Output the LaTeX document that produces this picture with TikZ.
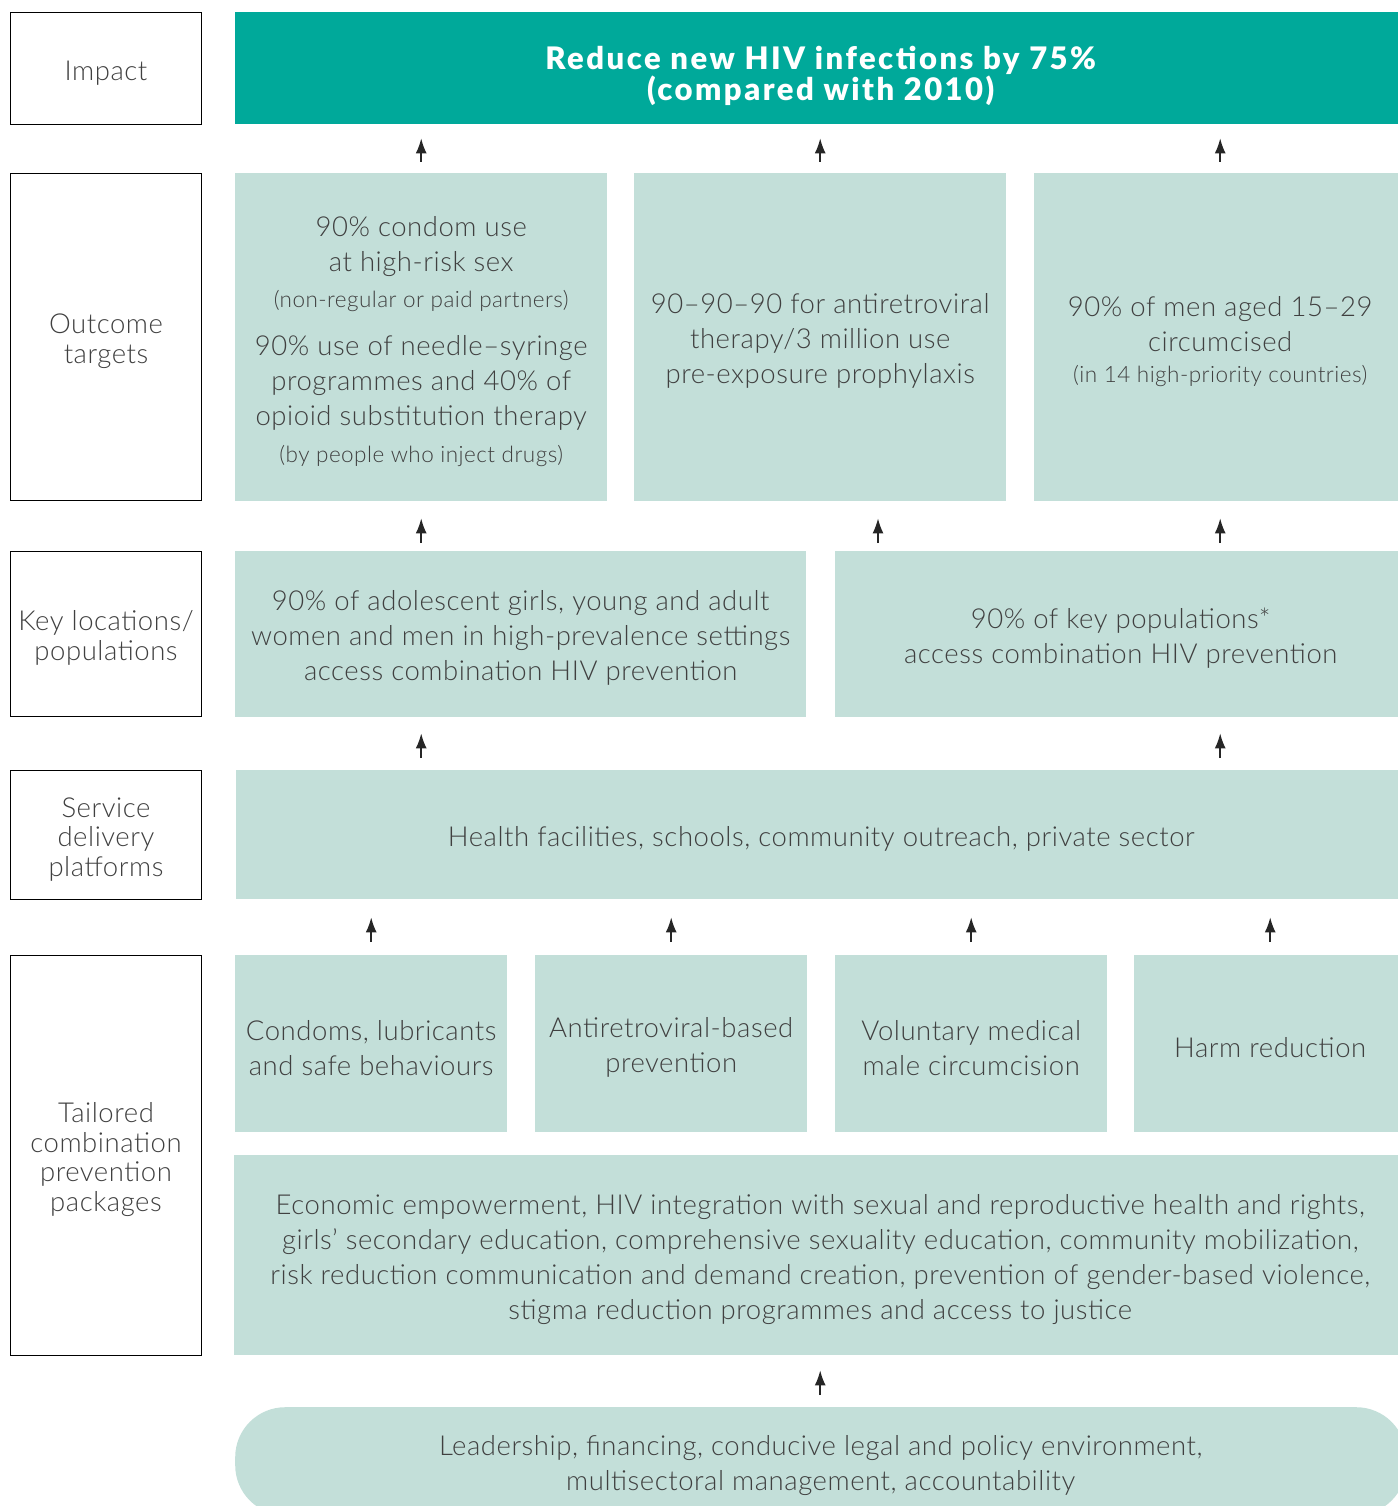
\documentclass[tikz,border=0pt]{standalone}
\usepackage{fontspec}
\setmainfont{Lato}[UprightFont={* Light},BoldFont={* Black},LetterSpace=2,BoldFeatures={LetterSpace=8}]
\usetikzlibrary{arrows.meta}
\usetikzlibrary{calc}
\definecolor{hivteal}{HTML}{00A99A}
\definecolor{hivpale}{HTML}{C3DFD9}
\definecolor{hivtext}{HTML}{404040}
\newcommand{\txtbig}{\fontsize{27.5}{35}\selectfont}
\newcommand{\txtsmall}{\fontsize{22.5}{26}\selectfont}
\newcommand{\txtlabel}{\fontsize{27.5}{29.5}\selectfont}
\newcommand{\txttitle}{\fontsize{31}{31}\selectfont\bfseries}
\tikzset{
    rowlabel/.style={draw=black, line width=1pt, fill=white, anchor=north west, align=flush center, text=hivtext, font=\txtlabel, inner sep=0pt, text width=185pt, text height=28pt, minimum width=191pt},
    cell/.style={fill=hivpale, anchor=north west, align=flush center, text=hivtext, font=\txtbig, inner sep=0pt, text height=28pt},
    goal/.style={cell, fill=hivteal, text=white, font=\txttitle, text height=39pt},
    uparrow/.style={-{Latex[length=15pt,width=11pt]}, line width=1.5pt, draw=black!85}
}
\begin{document}
\begin{tikzpicture}[x=1pt,y=-1pt]
    \useasboundingbox (0,0) rectangle (1397,1506);

    % row labels
    \node[rowlabel, minimum height=112pt] (lImpact) at (10,12) {Impact};
    \node[rowlabel, minimum height=327pt] (lOutcome) at (10,173) {Outcome\\targets};
    \node[rowlabel, minimum height=165pt] (lKey) at (10,551) {Key locations/\\populations};
    \node[rowlabel, minimum height=129pt] (lService) at (10,770) {Service\\delivery\\platforms};
    \node[rowlabel, minimum height=400pt] (lTailor) at (10,955) {Tailored\\combination\\prevention\\packages};

    \node[goal, minimum width=1171pt, minimum height=112pt, text width=1160pt] (impact) at (235,12) {Reduce new HIV infections by 75\%\\(compared with 2010)};

    \node[cell, minimum width=372pt, minimum height=328pt, text width=366pt] (out1) at (235,173) {%
        {\txtbig 90\% condom use\\at high-risk sex\par}
        \vspace{10pt}{\txtsmall (non-regular or paid partners)\par}
        \vspace{13pt}{\txtbig 90\% use of needle–syringe\\programmes and 40\% of\\opioid substitution therapy\par}
        \vspace{11pt}{\txtsmall (by people who inject drugs)\par}};
    \node[cell, minimum width=372pt, minimum height=328pt, text width=366pt] (out2) at (634,173) {90–90–90 for antiretroviral\\therapy/3 million use\\pre-exposure prophylaxis};
    \node[cell, minimum width=372pt, minimum height=328pt, text width=366pt] (out3) at (1034,173) {%
        {\txtbig 90\% of men aged 15–29\\circumcised\par}
        \vspace{5pt}{\txtsmall (in 14 high-priority countries)\par}};

    \node[cell, minimum width=571pt, minimum height=166pt, text width=565pt] (kl1) at (235,551) {90\% of adolescent girls, young and adult\\women and men in high-prevalence settings\\access combination HIV prevention};
    \node[cell, minimum width=571pt, minimum height=166pt, text width=565pt] (kl2) at (835,551) {90\% of key populations*\\access combination HIV prevention};

    \node[cell, minimum width=1170pt, minimum height=129pt, text width=1160pt] (svc) at (236,770) {Health facilities, schools, community outreach, private sector};

    \node[cell, minimum width=272pt, minimum height=177pt, text width=266pt] (pk1) at (235,955) {Condoms, lubricants\\and safe behaviours};
    \node[cell, minimum width=272pt, minimum height=177pt, text width=266pt] (pk2) at (535,955) {Antiretroviral-based\\prevention};
    \node[cell, minimum width=272pt, minimum height=177pt, text width=266pt] (pk3) at (835,955) {Voluntary medical\\male circumcision};
    \node[cell, minimum width=272pt, minimum height=177pt, text width=266pt] (pk4) at (1134,955) {Harm reduction};

    \node[cell, minimum width=1172pt, minimum height=200pt, text width=1162pt] (econ) at (234,1155) {Economic empowerment, HIV integration with sexual and reproductive health and rights,\\girls’ secondary education, comprehensive sexuality education, community mobilization,\\risk reduction communication and demand creation, prevention of gender-based violence,\\stigma reduction programmes and access to justice};

    \node[cell, rounded corners=50pt, minimum width=1171pt, minimum height=108pt, text width=1160pt] (base) at (235,1407) {Leadership, financing, conducive legal and policy environment,\\multisectoral management, accountability};

    \coordinate (mid) at (878,0);

    % arrows
    \draw[uparrow, shorten <=11pt, shorten >=14pt] (out1.north) -- (impact.south -| out1.north);
    \draw[uparrow, shorten <=11pt, shorten >=14pt] (out2.north) -- (impact.south -| out2.north);
    \draw[uparrow, shorten <=11pt, shorten >=14pt] (out3.north) -- (impact.south -| out3.north);

    \draw[uparrow, shorten <=8pt, shorten >=17pt] (kl1.north -| out1.south) -- (out1.south);
    \draw[uparrow, shorten <=8pt, shorten >=17pt] (kl2.north -| mid) -- (out2.south -| mid);
    \draw[uparrow, shorten <=8pt, shorten >=17pt] (kl2.north -| out3.south) -- (out3.south);

    \draw[uparrow, shorten <=12pt, shorten >=16pt] (svc.north -| out1.south) -- (kl1.south -| out1.south);
    \draw[uparrow, shorten <=12pt, shorten >=16pt] (svc.north -| out3.south) -- (kl2.south -| out3.south);

    \draw[uparrow, shorten <=13pt, shorten >=18pt] (pk1.north) -- (svc.south -| pk1.north);
    \draw[uparrow, shorten <=13pt, shorten >=18pt] (pk2.north) -- (svc.south -| pk2.north);
    \draw[uparrow, shorten <=13pt, shorten >=18pt] (pk3.north) -- (svc.south -| pk3.north);
    \draw[uparrow, shorten <=13pt, shorten >=18pt] (pk4.north) -- (svc.south -| pk4.north);

    \draw[uparrow, shorten <=12pt, shorten >=15pt] (base.north -| econ.south) -- (econ.south);
\end{tikzpicture}
\end{document}
